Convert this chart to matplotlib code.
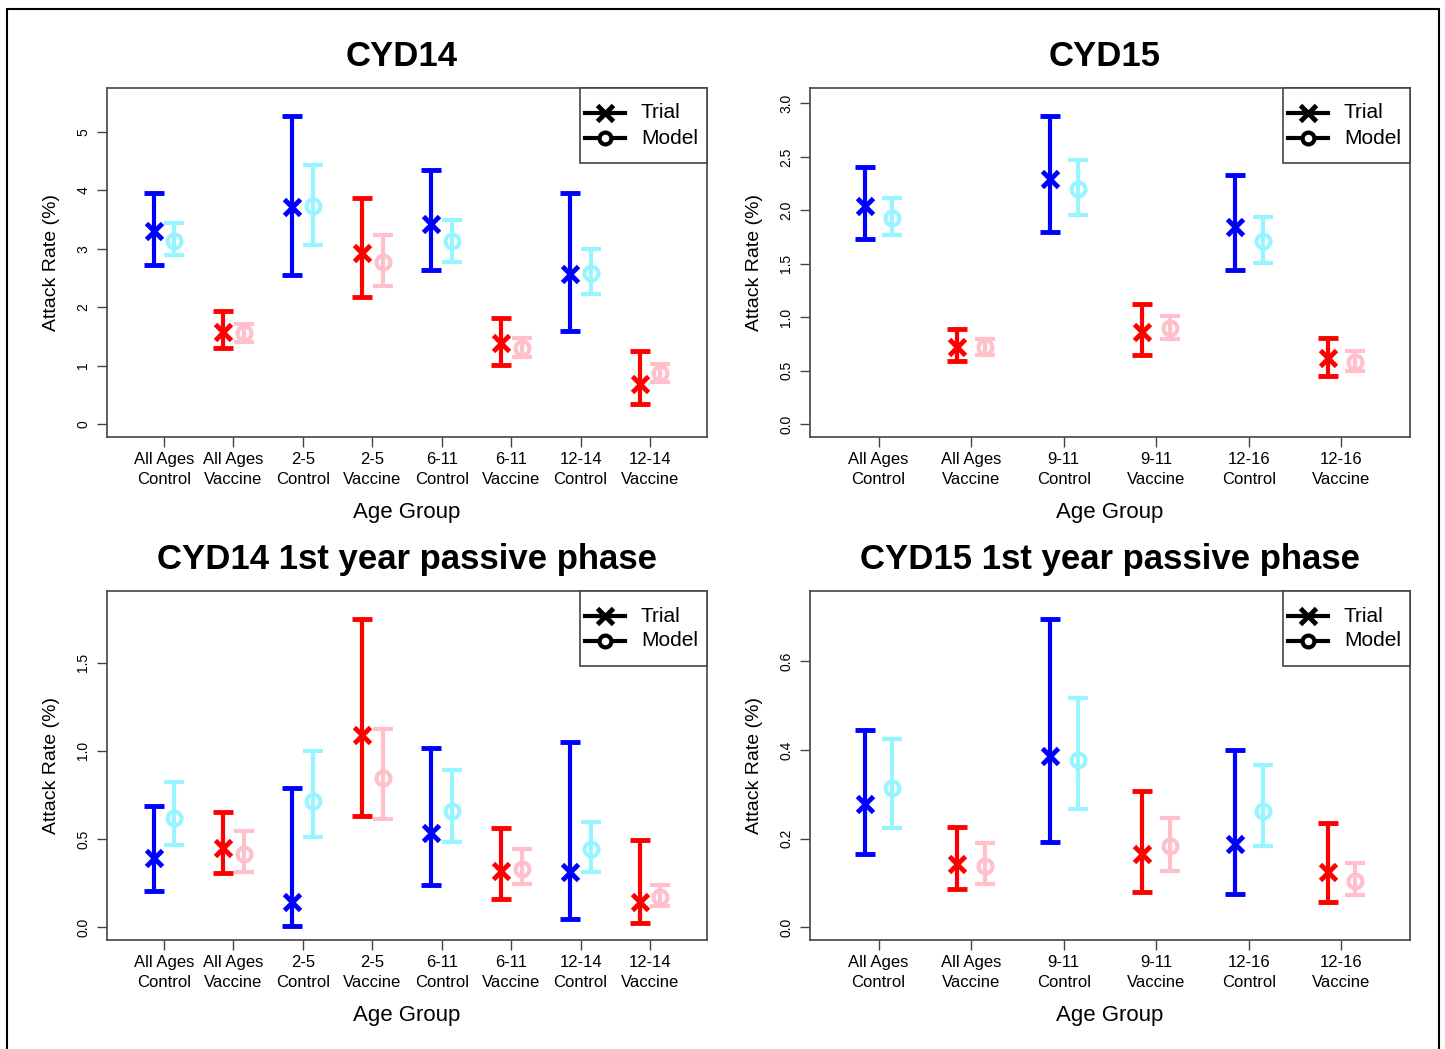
import matplotlib
matplotlib.use("Agg")
import matplotlib.pyplot as plt
from matplotlib.lines import Line2D
from matplotlib.patches import Rectangle
import numpy as np

plt.rcParams['font.family'] = ['Liberation Sans', 'DejaVu Sans']

# ---------------- data ----------------
cyd14_labels = ["All Ages\nControl", "All Ages\nVaccine", "2-5\nControl", "2-5\nVaccine",
                "6-11\nControl", "6-11\nVaccine", "12-14\nControl", "12-14\nVaccine"]
cyd15_labels = ["All Ages\nControl", "All Ages\nVaccine", "9-11\nControl", "9-11\nVaccine",
                "12-16\nControl", "12-16\nVaccine"]

cyd14_trial    = [3.31, 1.58, 3.72, 2.93, 3.43, 1.39, 2.57, 0.69]
cyd14_trial_lo = [2.73, 1.30, 2.55, 2.17, 2.63, 1.02, 1.59, 0.35]
cyd14_trial_hi = [3.96, 1.93, 5.27, 3.87, 4.35, 1.82, 3.95, 1.25]
cyd14_model    = [3.14, 1.56, 3.74, 2.77, 3.13, 1.31, 2.59, 0.87]
cyd14_model_lo = [2.89, 1.41, 3.06, 2.36, 2.78, 1.15, 2.22, 0.72]
cyd14_model_hi = [3.44, 1.72, 4.43, 3.23, 3.49, 1.48, 2.99, 1.03]

cyd15_trial    = [2.045, 0.72, 2.29, 0.86, 1.84, 0.615]
cyd15_trial_lo = [1.73, 0.59, 1.80, 0.65, 1.44, 0.45]
cyd15_trial_hi = [2.41, 0.886, 2.88, 1.12, 2.33, 0.81]
cyd15_model    = [1.93, 0.72, 2.20, 0.90, 1.71, 0.585]
cyd15_model_lo = [1.77, 0.65, 1.96, 0.80, 1.51, 0.50]
cyd15_model_hi = [2.12, 0.80, 2.47, 1.01, 1.94, 0.68]

cyd14p_trial    = [0.39, 0.448, 0.145, 1.087, 0.531, 0.318, 0.311, 0.141]
cyd14p_trial_lo = [0.205, 0.307, 0.008, 0.63, 0.239, 0.158, 0.043, 0.021]
cyd14p_trial_hi = [0.684, 0.65, 0.788, 1.745, 1.014, 0.563, 1.05, 0.496]
cyd14p_model    = [0.62, 0.416, 0.716, 0.846, 0.66, 0.33, 0.441, 0.173]
cyd14p_model_lo = [0.467, 0.311, 0.51, 0.612, 0.48, 0.243, 0.315, 0.117]
cyd14p_model_hi = [0.825, 0.546, 0.997, 1.125, 0.893, 0.443, 0.595, 0.239]

cyd15p_trial    = [0.279, 0.142, 0.386, 0.166, 0.188, 0.124]
cyd15p_trial_lo = [0.164, 0.0855, 0.193, 0.0795, 0.074, 0.0555]
cyd15p_trial_hi = [0.445, 0.225, 0.695, 0.308, 0.401, 0.235]
cyd15p_model    = [0.315, 0.139, 0.378, 0.182, 0.263, 0.104]
cyd15p_model_lo = [0.223, 0.098, 0.266, 0.1275, 0.184, 0.0735]
cyd15p_model_hi = [0.425, 0.19, 0.518, 0.246, 0.365, 0.1455]

titles = ["CYD14", "CYD15", "CYD14 1st year passive phase", "CYD15 1st year passive phase"]
yticks_list = [[0, 1, 2, 3, 4, 5],
               [0.0, 0.5, 1.0, 1.5, 2.0, 2.5, 3.0],
               [0.0, 0.5, 1.0, 1.5],
               [0.0, 0.2, 0.4, 0.6]]
ytick_fmt = ["{:.0f}", "{:.1f}", "{:.1f}", "{:.1f}"]
legend_labels = ["Trial", "Model"]

panels = [
    (cyd14_labels, cyd14_trial, cyd14_trial_lo, cyd14_trial_hi, cyd14_model, cyd14_model_lo, cyd14_model_hi),
    (cyd15_labels, cyd15_trial, cyd15_trial_lo, cyd15_trial_hi, cyd15_model, cyd15_model_lo, cyd15_model_hi),
    (cyd14_labels, cyd14p_trial, cyd14p_trial_lo, cyd14p_trial_hi, cyd14p_model, cyd14p_model_lo, cyd14p_model_hi),
    (cyd15_labels, cyd15p_trial, cyd15p_trial_lo, cyd15p_trial_hi, cyd15p_model, cyd15p_model_lo, cyd15p_model_hi),
]

# ---------------- layout (pixels) ----------------
W, H = 1445, 1049
fig = plt.figure(figsize=(W / 100, H / 100), dpi=100)

boxes = [(107, 88, 707, 437), (810, 88, 1410, 437),
         (107, 591, 707, 940), (810, 591, 1410, 940)]
title_dx = [-5, -5, 0, 0]

C_TRIAL = "#0000FF"
C_MODEL = "#98F5FF"
V_TRIAL = "#FF0000"
V_MODEL = "#FFC0CB"
FRAME = "#444444"

off = 0.15
for i, (box, pdata) in enumerate(zip(boxes, panels)):
    l, t, r, b = box
    bw, bh = r - l, b - t
    ax = fig.add_axes([l / W, 1 - b / H, bw / W, bh / H])
    labels, tr, trlo, trhi, mo, molo, mohi = pdata
    n = len(labels)
    x = np.arange(1, n + 1)
    for j in range(n):
        ctrl = "Control" in labels[j]
        ct = C_TRIAL if ctrl else V_TRIAL
        cm = C_MODEL if ctrl else V_MODEL
        ax.errorbar(x[j] + off, mo[j], yerr=[[mo[j] - molo[j]], [mohi[j] - mo[j]]],
                    fmt='o', color=cm, mfc='none', mec=cm, ms=10, mew=3,
                    elinewidth=3, capsize=7, capthick=3, zorder=2)
        ax.errorbar(x[j] - off, tr[j], yerr=[[tr[j] - trlo[j]], [trhi[j] - tr[j]]],
                    fmt='x', color=ct, ms=12, mew=3.5,
                    elinewidth=3, capsize=7, capthick=3, zorder=3)
    top = 1.05 * max(max(trhi), max(mohi))
    ax.set_ylim(-0.04 * top, 1.04 * top)
    ax.set_xlim(0.5 - 0.04 * n, n + 0.5 + 0.04 * n)
    ax.set_xticks(x)
    ax.set_xticklabels(labels, fontsize=12, linespacing=1.38)
    yt = yticks_list[i]
    ax.set_yticks(yt)
    ax.set_yticklabels([ytick_fmt[i].format(v) for v in yt], rotation=90,
                       va='center', fontsize=10)
    ax.tick_params(axis='both', length=7, width=1, color=FRAME)
    ax.tick_params(axis='x', pad=4)
    ax.tick_params(axis='y', pad=5)
    for s in ax.spines.values():
        s.set_color(FRAME)
        s.set_linewidth(1.2)
    ax.set_xlabel("Age Group", fontsize=16, labelpad=11)
    ax.set_ylabel("Attack Rate (%)", fontsize=14, labelpad=12)

    # legend drawn in axes-fraction coordinates (box 580..707 x 88..163 px)
    def fx(px):
        return (px - l) / bw
    def fy(py):
        return 1 - (py - t) / bh
    lx0 = l + 473
    ax.add_patch(Rectangle((fx(lx0), fy(t + 75)), fx(r) - fx(lx0), fy(t) - fy(t + 75),
                           transform=ax.transAxes, facecolor='white', edgecolor=FRAME,
                           linewidth=1.2, zorder=5, clip_on=False))
    for k, (mk, lab) in enumerate(zip(['x', 'o'], legend_labels)):
        yy = fy(t + 25 + 25 * k)
        ax.add_line(Line2D([fx(lx0 + 5), fx(lx0 + 45)], [yy, yy], transform=ax.transAxes,
                           color='black', lw=3, zorder=6))
        ax.add_line(Line2D([fx(lx0 + 25)], [yy], transform=ax.transAxes, color='black',
                           marker=mk, ms=(11 if mk == 'x' else 8.5), mew=3.5 if mk == 'x' else 3,
                           mfc='white', zorder=7))
        ax.text(fx(lx0 + 61), yy, lab, transform=ax.transAxes, fontsize=15,
                ha='left', va='center', zorder=7)

    fig.text(((l + r) / 2 + title_dx[i]) / W, 1 - (t - 31) / H, titles[i], fontsize=25,
             fontweight='bold', ha='center', va='center')

# outer border
fig.add_artist(Rectangle((7 / W, -0.05), (1439 - 7) / W, 1 - 9 / H + 0.05,
                         transform=fig.transFigure, fill=False, edgecolor='black',
                         linewidth=1.5, clip_on=False))

fig.savefig("out.png", dpi=100)
